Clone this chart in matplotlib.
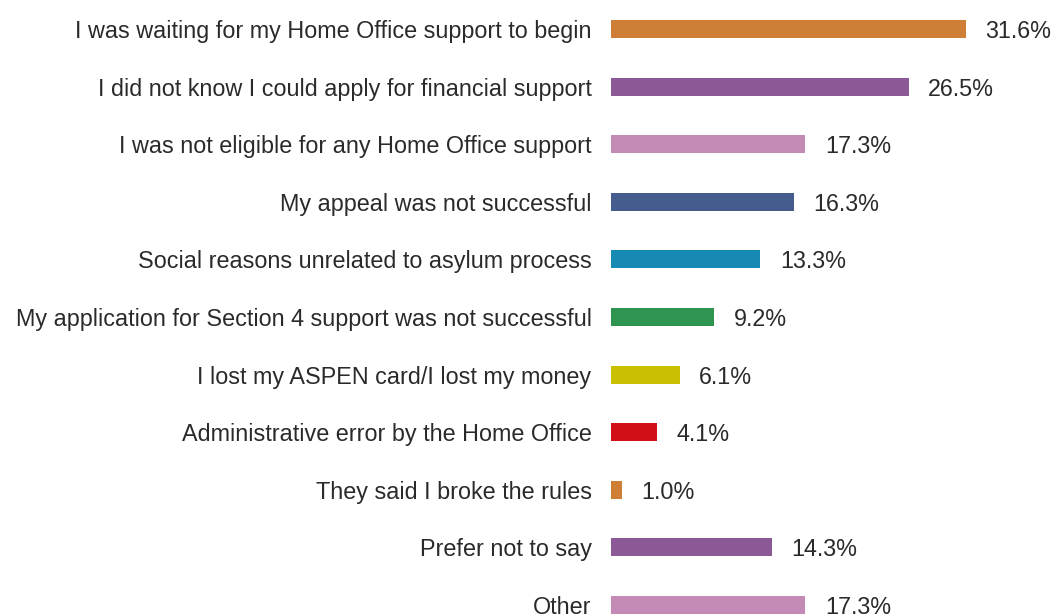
import matplotlib
matplotlib.use("Agg")
import matplotlib.pyplot as plt

labels = [
    "I was waiting for my Home Office support to begin",
    "I did not know I could apply for financial support",
    "I was not eligible for any Home Office support",
    "My appeal was not successful",
    "Social reasons unrelated to asylum process",
    "My application for Section 4 support was not successful",
    "I lost my ASPEN card/I lost my money",
    "Administrative error by the Home Office",
    "They said I broke the rules",
    "Prefer not to say",
    "Other",
]
values = [31.6, 26.5, 17.3, 16.3, 13.3, 9.2, 6.1, 4.1, 1.0, 14.3, 17.3]
colors = ["#CF7F35", "#8B5A96", "#C28AB5", "#445C8E", "#168AB3", "#2E9450",
          "#C8C000", "#D20F16", "#CF7F35", "#8B5A96", "#C28AB5"]

plt.rcParams["font.family"] = ["Liberation Sans", "DejaVu Sans"]

W, H = 1055, 615
fig = plt.figure(figsize=(W / 100, H / 100), dpi=100)
x0 = 611
ax = fig.add_axes([x0 / W, 0, 1 - x0 / W, 1])

pxper = 355 / 31.6
rowpx = 57.6
ax.set_xlim(0, (W - x0) / pxper)
ax.set_ylim(10 + (H - 605) / rowpx, -29 / rowpx)

ypos = list(range(len(labels)))
ax.barh(ypos, values, height=18 / rowpx, color=colors)
for y, v in zip(ypos, values):
    ax.annotate(f"{v:.1f}%", (v, y), xytext=(14, 0), textcoords="offset points",
                va="center_baseline", ha="left", fontsize=16.8, color="#2a2a2a")

ax.set_yticks(ypos)
ax.set_yticklabels(labels, fontsize=16.8, color="#2a2a2a")
ax.tick_params(axis="y", length=0, pad=14)
ax.set_xticks([])
for s in ax.spines.values():
    s.set_visible(False)

fig.savefig("out.png", dpi=100)
